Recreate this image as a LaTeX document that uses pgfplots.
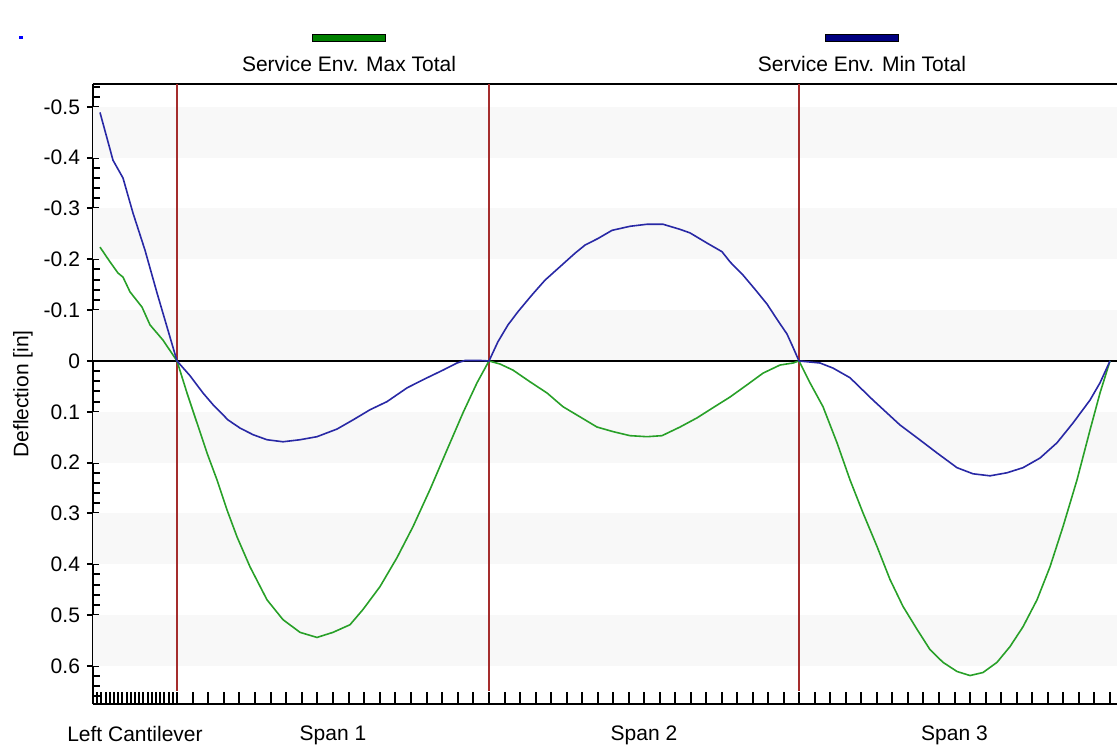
\documentclass[border=0pt]{standalone}
\usepackage{pgfplots}
\pgfplotsset{compat=1.18}
\usepackage{pgfplotstable}
\usepackage{fontspec}
\setmainfont{Liberation Sans}
\definecolor{maxgreen}{RGB}{40,160,40}
\definecolor{minblue}{RGB}{40,40,165}
\definecolor{leggreen}{RGB}{0,128,0}
\definecolor{legblue}{RGB}{0,0,128}
\definecolor{supred}{RGB}{165,45,45}
\definecolor{stripe}{RGB}{248,248,248}

\pgfplotstableread{
x y
100 -0.489
113 -0.395
123 -0.360
133 -0.291
145 -0.218
157 -0.134
167 -0.067
177 0
190 0.029
203 0.063
213 0.086
228 0.116
240 0.132
253 0.145
267 0.155
283 0.159
300 0.155
317 0.149
337 0.134
353 0.116
370 0.096
387 0.080
407 0.053
423 0.037
443 0.018
457 0.004
465 -0.001
480 -0.001
489 0
498 -0.038
508 -0.071
518 -0.097
532 -0.130
545 -0.159
562 -0.189
575 -0.212
585 -0.228
598 -0.241
612 -0.257
630 -0.265
647 -0.269
663 -0.269
680 -0.259
690 -0.252
707 -0.232
722 -0.215
730 -0.195
743 -0.169
755 -0.141
767 -0.112
778 -0.079
787 -0.053
793 -0.027
799 0
820 0.004
833 0.014
850 0.033
873 0.077
900 0.126
917 0.151
937 0.181
957 0.210
973 0.222
990 0.226
1007 0.220
1023 0.210
1040 0.191
1057 0.161
1073 0.122
1090 0.077
1100 0.043
1110 0
}\mintable

\pgfplotstableread{
x y
100 -0.224
110 -0.195
118 -0.173
123 -0.165
130 -0.136
142 -0.106
150 -0.071
163 -0.041
177 0
187 0.063
197 0.122
207 0.181
217 0.234
227 0.293
237 0.346
250 0.405
267 0.470
283 0.509
300 0.534
317 0.544
333 0.534
350 0.519
363 0.489
380 0.444
397 0.387
413 0.326
430 0.253
447 0.175
463 0.102
477 0.043
489 0
500 0.006
513 0.018
530 0.041
547 0.063
563 0.090
580 0.110
597 0.130
613 0.139
630 0.147
647 0.149
662 0.147
680 0.130
697 0.112
713 0.092
730 0.071
747 0.047
763 0.024
780 0.008
793 0.004
799 0
810 0.043
823 0.090
837 0.161
850 0.234
863 0.299
877 0.365
890 0.430
903 0.483
917 0.528
930 0.568
943 0.593
957 0.611
970 0.619
983 0.613
997 0.593
1010 0.562
1023 0.523
1037 0.470
1050 0.405
1063 0.326
1077 0.234
1090 0.136
1100 0.063
1110 0
}\maxtable

\begin{document}
\begin{tikzpicture}
\useasboundingbox (-46.5pt,-20pt) rectangle (512pt,352pt);
\begin{axis}[
  at={(0,0)}, anchor=south west,
  scale only axis, width=512pt, height=310pt,
  xmin=93, xmax=1117,
  ymin=-0.545, ymax=0.675, y dir=reverse,
  axis x line*=box, axis y line*=left,
  axis line style={-, line width=0.9pt, black},
  xtick pos=left,
  font=\fontsize{10.5}{12}\selectfont,
  tick align=inside,
  major tick length=6pt, minor tick length=3.5pt,
  every tick/.style={black, line width=1pt},
  major y tick style={xshift=-3pt},
  xtick={93,97.2,101.4,105.6,109.8,114,118.2,122.4,126.6,130.8,135,139.2,143.4,147.6,151.8,156,160.2,164.4,168.6,172.8,177,
         192.6,208.2,223.8,239.4,255,270.6,286.2,301.8,317.4,333,348.6,364.2,379.8,395.4,411,426.6,442.2,457.8,473.4,489,
         504.5,520,535.5,551,566.5,582,597.5,613,628.5,644,659.5,675,690.5,706,721.5,737,752.5,768,783.5,799,
         814.55,830.1,845.65,861.2,876.75,892.3,907.85,923.4,938.95,954.5,970.05,985.6,1001.15,1016.7,1032.25,1047.8,1063.35,1078.9,1094.45,1110},
  xticklabels={},
  extra x ticks={135,333,644,954.5},
  extra x tick labels={Left Cantilever,Span 1,Span 2,Span 3},
  extra x tick style={major tick length=0pt, major x tick style={draw=none}, xticklabel style={yshift=-7.5pt}},
  ytick={-0.5,-0.4,-0.3,-0.2,-0.1,0,0.1,0.2,0.3,0.4,0.5,0.6},
  yticklabels={-0.5,-0.4,-0.3,-0.2,-0.1,0,0.1,0.2,0.3,0.4,0.5,0.6},
  yticklabel style={xshift=-3pt},
  minor ytick={-0.54,-0.52,-0.48,-0.46,-0.44,-0.42,-0.38,-0.36,-0.34,-0.32,-0.28,-0.26,-0.24,-0.22,-0.18,-0.16,-0.14,-0.12,-0.08,-0.06,-0.04,-0.02,
               0.02,0.04,0.06,0.08,0.12,0.14,0.16,0.18,0.22,0.24,0.26,0.28,0.32,0.34,0.36,0.38,0.42,0.44,0.46,0.48,0.52,0.54,0.56,0.58,0.62,0.64,0.66},
  ylabel={Deflection [in]},
  every axis y label/.style={at={(axis description cs:0,0.5)}, rotate=90, anchor=center, yshift=35pt},
  clip=true,
]
% background stripes
\foreach \a in {-0.5,-0.3,-0.1,0.1,0.3,0.5}{
  \edef\tmp{\noexpand\fill[stripe] (axis cs:93,\a) rectangle (axis cs:1117,\a+0.1);}
  \tmp
}
\draw[black, line width=0.8pt] (axis cs:93,0) -- (axis cs:1117,0);
\draw[supred, line width=1pt] (axis cs:177,-0.545) -- (axis cs:177,0.65);
\draw[supred, line width=1pt] (axis cs:489,-0.545) -- (axis cs:489,0.65);
\draw[supred, line width=1pt] (axis cs:799,-0.545) -- (axis cs:799,0.65);
\addplot[maxgreen, line width=0.8pt, mark=none] table[x=x,y=y] {\maxtable};
\addplot[minblue, line width=0.8pt, mark=none] table[x=x,y=y] {\mintable};
\end{axis}
% legend
\draw[black, line width=0.5pt, fill=leggreen] (109.75pt,331.25pt) rectangle (146.25pt,334.75pt);
\node[font=\fontsize{10.5}{12}\selectfont] at (128pt,320pt) {Service Env. Max Total};
\draw[black, line width=0.5pt, fill=legblue] (366.25pt,331.25pt) rectangle (402.75pt,334.75pt);
\node[font=\fontsize{10.5}{12}\selectfont] at (384.5pt,320pt) {Service Env. Min Total};
\fill[blue] (-37pt,332.5pt) rectangle (-35pt,334pt);
\end{tikzpicture}
\end{document}
